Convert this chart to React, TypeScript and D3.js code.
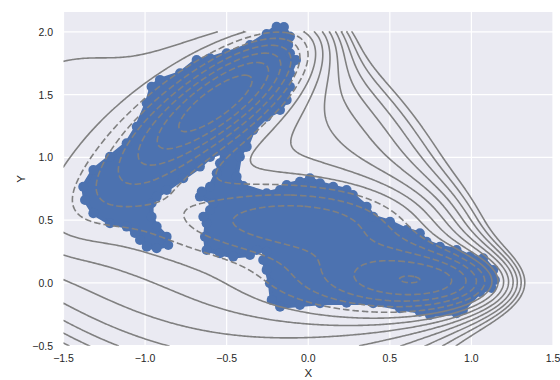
import React, { useEffect, useRef } from 'react';
import * as d3 from 'd3';

// axis ticks
const xTicks = [-1.5, -1.0, -0.5, 0.0, 0.5, 1.0, 1.5];
const yTicks = [-0.5, 0.0, 0.5, 1.0, 1.5, 2.0];

// Muller-Brown potential terms
const A = [-200, -100, -170, 15];
const a = [-1, -1, -6.5, 0.7];
const b = [0, 0, 11, 0.6];
const c = [-10, -10, -6.5, 0.7];
const x0 = [1, 0, -0.5, -1];
const y0 = [0, 0.5, 1.5, 1];

// contour grid and levels
const gridX = [-1.5, 1.5];
const gridY = [-0.5, 2.0];
const gridStep = 0.01;
const levels = [-150, -128.6, -107.1, -85.7, -64.3, -42.9, -21.4, 0, 21.4, 42.9, 64.3, 85.7, 107.1, 128.6, 150];

const upperBasin: [number, number][] = [
  [-1.031, 0.343], [-0.990, 0.289], [-0.929, 0.277], [-0.858, 0.303], [-0.868, 0.369],
  [-0.929, 0.449], [-0.960, 0.528], [-0.960, 0.635], [-0.929, 0.688], [-0.868, 0.741],
  [-0.766, 0.834], [-0.664, 0.927], [-0.602, 1.004], [-0.521, 1.046], [-0.439, 1.139],
  [-0.377, 1.086], [-0.337, 1.219], [-0.255, 1.325], [-0.173, 1.378], [-0.132, 1.458],
  [-0.112, 1.564], [-0.112, 1.671], [-0.075, 1.777], [-0.112, 1.830], [-0.123, 1.896],
  [-0.112, 1.963], [-0.149, 2.040], [-0.194, 2.042], [-0.255, 1.984], [-0.357, 1.896],
  [-0.500, 1.830], [-0.602, 1.790], [-0.684, 1.777], [-0.786, 1.671], [-0.909, 1.618],
  [-0.960, 1.564], [-0.990, 1.432], [-1.051, 1.245], [-1.113, 1.113], [-1.215, 1.006],
  [-1.317, 0.900], [-1.379, 0.767], [-1.368, 0.661], [-1.317, 0.555], [-1.215, 0.476],
  [-1.113, 0.449], [-1.062, 0.398],
];

const lowerBasin: [number, number][] = [
  [-0.498, 1.139], [-0.419, 1.166], [-0.388, 1.084], [-0.419, 1.006], [-0.439, 0.847],
  [-0.398, 0.773], [-0.255, 0.715], [-0.173, 0.741], [-0.132, 0.781], [-0.051, 0.807],
  [0.010, 0.834], [0.072, 0.794], [0.153, 0.767], [0.235, 0.741], [0.274, 0.701],
  [0.358, 0.608], [0.398, 0.528], [0.501, 0.488], [0.603, 0.422], [0.684, 0.396],
  [0.725, 0.329], [0.807, 0.289], [0.909, 0.263], [0.991, 0.210], [1.072, 0.197],
  [1.134, 0.104], [1.144, 0.024], [1.124, -0.040], [1.052, -0.072], [0.948, -0.215],
  [0.909, -0.241], [0.746, -0.255], [0.684, -0.229], [0.562, -0.202], [0.398, -0.162],
  [0.235, -0.157], [0.072, -0.162], [-0.051, -0.175], [-0.173, -0.189], [-0.224, -0.135],
  [-0.235, -0.002], [-0.255, 0.104], [-0.276, 0.183], [-0.255, 0.249], [-0.316, 0.263],
  [-0.357, 0.223], [-0.460, 0.210], [-0.541, 0.237], [-0.623, 0.263], [-0.633, 0.369],
  [-0.623, 0.476], [-0.643, 0.528], [-0.602, 0.582], [-0.582, 0.635], [-0.664, 0.688],
  [-0.653, 0.728], [-0.602, 0.767], [-0.561, 0.874], [-0.541, 0.954], [-0.521, 1.046],
];

const potential = (x: number, y: number) => {
  let v = 0;
  for (let k = 0; k < A.length; k++) {
    const dx = x - x0[k];
    const dy = y - y0[k];
    v += A[k] * Math.exp(a[k] * dx * dx + b[k] * dx * dy + c[k] * dy * dy);
  }
  return v;
};

export default function App() {
  const svgRef = useRef<SVGSVGElement>(null);

  useEffect(() => {
    const width = 560;
    const height = 380;
    const left = 63.5, right = 553, top = 12, bottom = 345.7;

    const svg = d3.select(svgRef.current!);
    svg.selectAll('*').remove();

    const xScale = d3.scaleLinear().domain([-1.5, 1.5]).range([left, right]);
    const yScale = d3.scaleLinear().domain([-0.5, 2.159]).range([bottom, top]);

    svg.append('rect')
      .attr('x', left).attr('y', top)
      .attr('width', right - left).attr('height', bottom - top)
      .attr('fill', '#EAEAF2');

    svg.append('clipPath').attr('id', 'plotclip')
      .append('rect')
      .attr('x', left).attr('y', top)
      .attr('width', right - left).attr('height', bottom - top);

    // grid
    svg.append('g').selectAll('line').data(xTicks).enter().append('line')
      .attr('x1', d => xScale(d)).attr('x2', d => xScale(d))
      .attr('y1', top).attr('y2', bottom)
      .attr('stroke', '#fff').attr('stroke-width', 1.2);
    svg.append('g').selectAll('line').data(yTicks).enter().append('line')
      .attr('x1', left).attr('x2', right)
      .attr('y1', d => yScale(d)).attr('y2', d => yScale(d))
      .attr('stroke', '#fff').attr('stroke-width', 1.2);

    const plot = svg.append('g').attr('clip-path', 'url(#plotclip)');

    // sampled points
    const blue = '#4C72B0';
    const area = d3.line<[number, number]>()
      .x(d => xScale(d[0]))
      .y(d => yScale(d[1]))
      .curve(d3.curveLinearClosed);
    [upperBasin, lowerBasin].forEach(pts => {
      plot.append('path')
        .attr('d', area(pts))
        .attr('fill', blue)
        .attr('stroke', blue)
        .attr('stroke-width', 4)
        .attr('stroke-linejoin', 'round');
      plot.append('g').selectAll('circle').data(pts).enter().append('circle')
        .attr('cx', d => xScale(d[0]))
        .attr('cy', d => yScale(d[1]))
        .attr('r', 5)
        .attr('fill', blue);
    });

    // contours of the potential
    const nx = Math.round((gridX[1] - gridX[0]) / gridStep) + 1;
    const ny = Math.round((gridY[1] - gridY[0]) / gridStep) + 1;
    const values = new Array(nx * ny);
    for (let j = 0; j < ny; j++) {
      for (let i = 0; i < nx; i++) {
        values[j * nx + i] = potential(gridX[0] + i * gridStep, gridY[0] + j * gridStep);
      }
    }
    const toX = (cx: number) => xScale(gridX[0] + (cx - 0.5) * gridStep);
    const toY = (cy: number) => yScale(gridY[0] + (cy - 0.5) * gridStep);
    const onEdge = (p: number[]) => p[0] <= 0 || p[0] >= nx || p[1] <= 0 || p[1] >= ny;
    const lineGen = d3.line<number[]>().x(p => toX(p[0])).y(p => toY(p[1]));

    levels.forEach(level => {
      const mp = d3.contours().size([nx, ny]).thresholds([level])(values)[0];
      const paths: string[] = [];
      mp.coordinates.forEach(poly => {
        poly.forEach(ringIn => {
          let ring = ringIn.slice(0, ringIn.length - 1);
          const startIdx = ring.findIndex(p => onEdge(p));
          if (startIdx > 0) ring = ring.slice(startIdx).concat(ring.slice(0, startIdx));
          const closed = startIdx < 0;
          const pts = closed ? ring.concat([ring[0]]) : ring.concat([ring[0]]);
          let seg: number[][] = [];
          for (let k = 0; k < pts.length - 1; k++) {
            const p = pts[k], q = pts[k + 1];
            if (onEdge(p) && onEdge(q)) {
              if (seg.length > 1) paths.push(lineGen(seg)!);
              seg = [];
            } else {
              if (seg.length === 0) seg.push(p);
              seg.push(q);
            }
          }
          if (seg.length > 1) paths.push(lineGen(seg)!);
        });
      });
      plot.append('g').selectAll('path').data(paths).enter().append('path')
        .attr('d', d => d)
        .attr('fill', 'none')
        .attr('stroke', '#808080')
        .attr('stroke-width', 1.6)
        .attr('stroke-dasharray', level < 0 ? '6.5,3' : null);
    });

    // tick labels
    const fmt = (v: number) => d3.format('.1f')(v).replace('-', '\u2212');
    svg.append('g').selectAll('text').data(xTicks).enter().append('text')
      .attr('x', d => xScale(d)).attr('y', 362)
      .attr('text-anchor', 'middle')
      .attr('font-family', 'Liberation Sans, Arial, sans-serif')
      .attr('font-size', 10.5).attr('fill', '#262626')
      .text(d => fmt(d));
    svg.append('g').selectAll('text').data(yTicks).enter().append('text')
      .attr('x', 53).attr('y', d => yScale(d) + 3.8)
      .attr('text-anchor', 'end')
      .attr('font-family', 'Liberation Sans, Arial, sans-serif')
      .attr('font-size', 10.5).attr('fill', '#262626')
      .text(d => fmt(d));

    svg.append('text')
      .attr('x', (left + right) / 2).attr('y', 377)
      .attr('text-anchor', 'middle')
      .attr('font-family', 'Liberation Sans, Arial, sans-serif')
      .attr('font-size', 11.5).attr('fill', '#262626')
      .text('X');
    svg.append('text')
      .attr('transform', `translate(25, ${(top + bottom) / 2}) rotate(-90)`)
      .attr('text-anchor', 'middle')
      .attr('font-family', 'Liberation Sans, Arial, sans-serif')
      .attr('font-size', 11.5).attr('fill', '#262626')
      .text('Y');

    svg.attr('width', width).attr('height', height);
  }, []);

  return (
    <svg ref={svgRef} width={560} height={380}
      style={{ position: 'absolute', left: 0, top: 0, background: '#fff' }} />
  );
}
